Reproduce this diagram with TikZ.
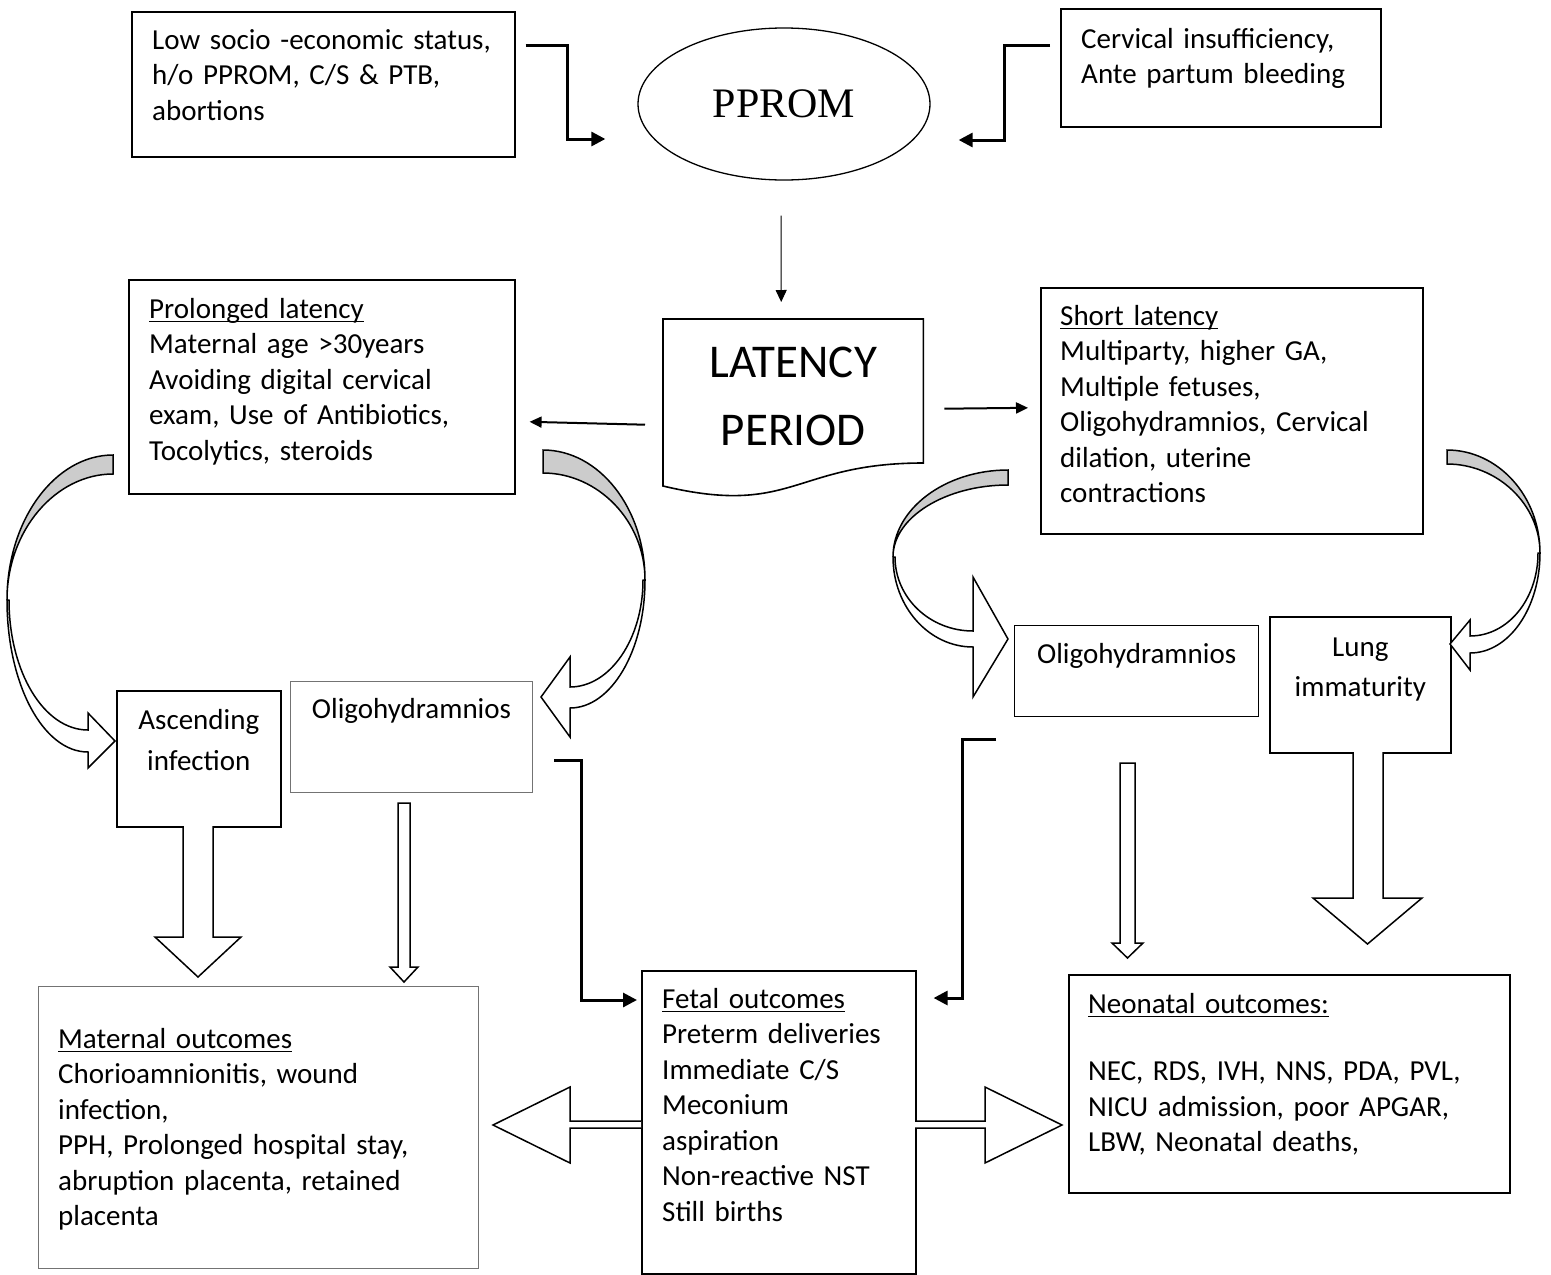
\documentclass[tikz,border=0pt]{standalone}
\usepackage{fontspec}
\setmainfont{Carlito}
\newfontfamily\serifhead{Liberation Serif}
\usetikzlibrary{arrows.meta, shapes.geometric, positioning}

\newcommand{\bodyfont}{\fontsize{29}{35.5}\selectfont}
\newsavebox\uheadbox
\newcommand{\uhead}[1]{\sbox\uheadbox{#1}\rlap{\rule[-4pt]{\wd\uheadbox}{1.5pt}}\usebox\uheadbox}

\tikzset{
  box/.style={draw, line width=1.6pt, inner sep=0pt, anchor=north west},
  lightbox/.style={draw=black!55, line width=1pt, inner sep=0pt, anchor=north west},
  txt/.style={font=\bodyfont, text width=420pt, align=left, inner sep=0pt, anchor=base west},
  ctxt/.style={font=\bodyfont, text width=240pt, align=center, inner sep=0pt, anchor=base},
  elbow/.style={line width=3pt, -{Triangle[length=14pt,width=14pt]}},
  link/.style={line width=#1, -{Triangle[length=12pt,width=11pt]}},
  hollow/.style={draw, line width=1.5pt, fill=white, line join=miter},
  curlback/.style={draw, line width=1.5pt, fill=black!20},
}

\begin{document}
\begin{tikzpicture}[x=1pt, y=-1pt]
\useasboundingbox (0,0) rectangle (1551,1275);

% top row
\node[box, minimum width=383pt, minimum height=145pt] (risk) at (131,11) {};
\node[txt] (risktxt) at ([shift={(21,38)}]risk.north west)
  {Low socio -economic status,\\ h/o PPROM, C/S \& PTB,\\ abortions};
\node[box, minimum width=320pt, minimum height=118pt] (cause) at (1060,8) {};
\node[txt] (causetxt) at ([shift={(21,40)}]cause.north west)
  {Cervical insufficiency,\\ Ante partum bleeding};
\node[draw, ellipse, line width=1.3pt, minimum width=292pt, minimum height=152pt, inner sep=0pt,
  font=\serifhead\fontsize{42}{50}\selectfont] (pprom) at (784,104) {PPROM};

% latency
\node[minimum width=260pt, minimum height=179pt, inner sep=0pt, anchor=north west] (latency) at (663,319) {};
\draw[line width=1.6pt] (latency.north west) -- (latency.north east) -- ([shift={(0,144)}]latency.north east)
  .. controls ([shift={(-130,144)}]latency.north east) and ([shift={(130,198)}]latency.north west)
  .. ([shift={(0,167)}]latency.north west) -- cycle;
\node[font=\fontsize{47}{68}\selectfont, text width=260pt, align=center, inner sep=0pt, anchor=base]
  (lattxt) at ([shift={(0,58)}]latency.north) {LATENCY\\ PERIOD};

\node[box, minimum width=386pt, minimum height=214pt] (prolonged) at (128,279) {};
\node[txt] (prolongedtxt) at ([shift={(21,39)}]prolonged.north west)
  {\uhead{Prolonged latency}\\ Maternal age >30years\\ Avoiding digital cervical\\ exam, Use of Antibiotics,\\ Tocolytics, steroids};
\node[box, minimum width=382pt, minimum height=246pt] (short) at (1040,287) {};
\node[txt] (shorttxt) at ([shift={(20,38)}]short.north west)
  {\uhead{Short latency}\\ Multiparty, higher GA,\\ Multiple fetuses,\\ Oligohydramnios, Cervical\\ dilation, uterine\\ contractions};

% middle row
\node[box, minimum width=164pt, minimum height=136pt] (ascend) at (116,690) {};
\node[ctxt, font=\fontsize{29}{41}\selectfont] (ascendtxt) at ([shift={(0,39)}]ascend.north) {Ascending\\ infection};
\node[lightbox, minimum width=242pt, minimum height=111pt] (oligoL) at (290,681) {};
\node[ctxt] (oligoLtxt) at ([shift={(0,37)}]oligoL.north) {Oligohydramnios};
\node[box, line width=1.3pt, minimum width=244pt, minimum height=91pt] (oligoR) at (1014,625) {};
\node[ctxt] (oligoRtxt) at ([shift={(0,38)}]oligoR.north) {Oligohydramnios};
\node[box, minimum width=181pt, minimum height=136pt] (lung) at (1269,616) {};
\node[ctxt, font=\fontsize{29}{40}\selectfont] (lungtxt) at ([shift={(0,40)}]lung.north) {Lung\\ immaturity};

% outcomes
\node[lightbox, minimum width=440pt, minimum height=282pt] (maternal) at (38,986) {};
\node[txt] (maternaltxt) at ([shift={(20,62)}]maternal.north west)
  {\uhead{Maternal outcomes}\\ Chorioamnionitis, wound\\ infection,\\ PPH, Prolonged hospital stay,\\ abruption placenta, retained\\ placenta};
\node[box, minimum width=274pt, minimum height=303pt] (fetal) at (641,970) {};
\node[txt] (fetaltxt) at ([shift={(21,38)}]fetal.north west)
  {\uhead{Fetal outcomes}\\ Preterm deliveries\\ Immediate C/S\\ Meconium\\ aspiration\\ Non-reactive NST\\ Still births};
\node[box, minimum width=441pt, minimum height=218pt] (neonatal) at (1068,974) {};
\node[txt] (neonataltxt) at ([shift={(20,39)}]neonatal.north west)
  {\uhead{Neonatal outcomes:}\\[32pt] NEC, RDS, IVH, NNS, PDA, PVL,\\ NICU admission, poor APGAR,\\ LBW, Neonatal deaths,};

% plain arrows
\draw[elbow] ([shift={(10,34)}]risk.north east) -- ++(42,0) |- ([shift={(-32,35)}]pprom.west);
\draw[elbow] ([shift={(-10,37)}]cause.north west) -- ++(-46,0) |- ([shift={(28,36)}]pprom.east);
\draw[link=1pt] ([shift={(-3,35)}]pprom.south) -- ([shift={(-12,-17)}]latency.north);
\draw[link=2pt] ([shift={(-18,16)}]latency.west) -- ([shift={(14,35)}]prolonged.east);
\draw[link=2pt] ([shift={(21,0)}]latency.east) -- ([shift={(-12,-3)}]short.west);
\draw[elbow] ([shift={(21,23)}]oligoL.east) -- ++(27,0) |- ([shift={(-4,30)}]fetal.north west);
\draw[elbow] ([shift={(-18,22)}]oligoR.south west) -- ++(-34,0) |- ([shift={(17,28)}]fetal.north east);

% curved arrows
\draw[curlback] (113,455) .. controls +(-58,0) and +(0,-80) .. (7,600) .. controls +(0,-70) and +(-57,0) .. (113,474) -- cycle;
\draw[hollow] (7,600) .. controls +(0,84) and +(-45,0) .. (88,752) -- (88,768) -- (115,741) -- (88,713) -- (88,730)
  .. controls +(-44,0) and +(0,72) .. (9,600) -- cycle;
\draw[curlback] (543,450) .. controls +(56,0) and +(0,-72) .. (645,580) .. controls +(0,-59) and +(55,0) .. (543,473) -- cycle;
\draw[hollow] (645,580) .. controls +(0,71) and +(41,0) .. (570,708) -- (570,737) -- (541,697) -- (570,657) -- (570,687)
  .. controls +(40,0) and +(0,59) .. (643,580) -- cycle;
\draw[curlback] (1008,470) .. controls +(-63,0) and +(0,-48) .. (893,557) .. controls +(0,-40) and +(-62,0) .. (1008,485) -- cycle;
\draw[hollow] (893,557) .. controls +(0,50) and +(-44,0) .. (973,647) -- (973,697) -- (1008,639) -- (973,577) -- (973,631)
  .. controls +(-43,0) and +(0,41) .. (895,557) -- cycle;
\draw[curlback] (1447,450) .. controls +(51,0) and +(0,-57) .. (1540,553) .. controls +(0,-49) and +(50,0) .. (1447,464) -- cycle;
\draw[hollow] (1540,553) .. controls +(0,55) and +(39,0) .. (1470,653) -- (1470,670) -- (1450,644) -- (1470,620) -- (1470,636)
  .. controls +(38,0) and +(0,46) .. (1538,553) -- cycle;

% block arrows
\draw[hollow] (183,826) -- (183,937) -- (155,937) -- (198,977) -- (241,937) -- (213,937) -- (213,826);
\draw[hollow] (398,803) -- (398,967) -- (390,967) -- (404,982) -- (418,967) -- (410,967) -- (410,803) -- cycle;
\draw[hollow] (1120,763) -- (1120,943) -- (1112,943) -- (1127.5,958) -- (1143,943) -- (1135,943) -- (1135,763) -- cycle;
\draw[hollow] (1353,752) -- (1353,898) -- (1313,898) -- (1367.5,944) -- (1422,898) -- (1383,898) -- (1383,752);
\draw[hollow] (641,1121) -- (570,1121) -- (570,1087) -- (493,1125) -- (570,1163) -- (570,1128) -- (641,1128);
\draw[hollow] (915,1121) -- (985,1121) -- (985,1087) -- (1062,1125) -- (985,1163) -- (985,1128) -- (915,1128);
\end{tikzpicture}
\end{document}
